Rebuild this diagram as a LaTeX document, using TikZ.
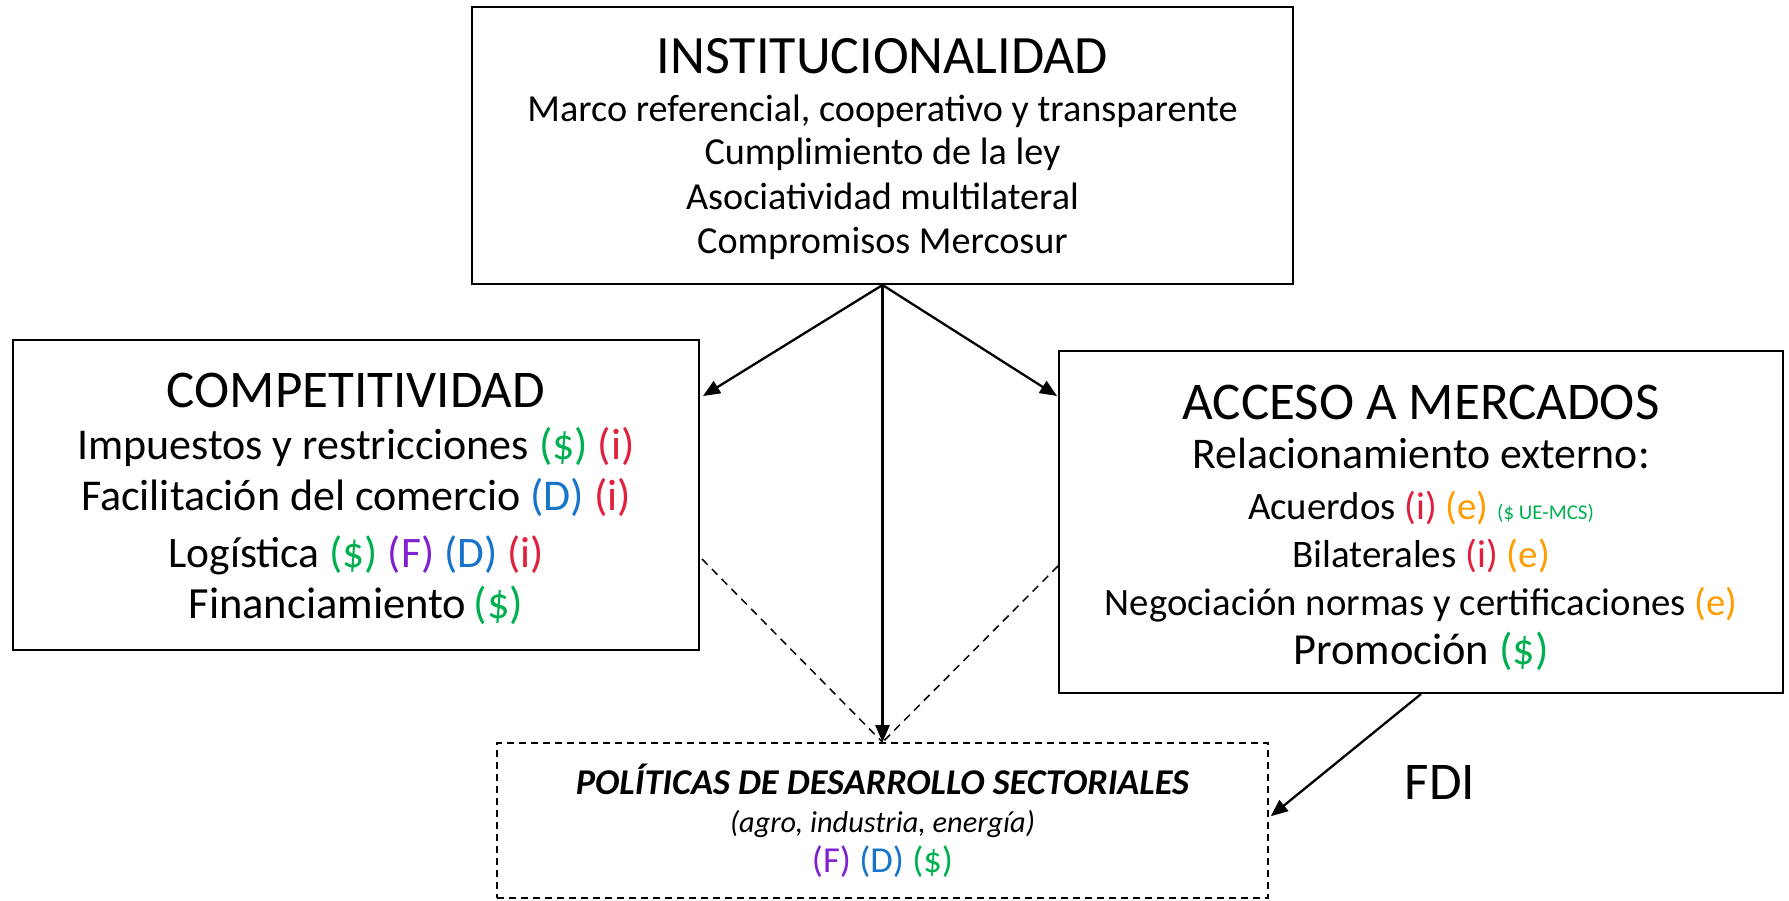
\documentclass[tikz,border=0pt]{standalone}
\usepackage{fontspec}
\setmainfont{Carlito}
\usetikzlibrary{arrows.meta,calc}
\definecolor{cg}{HTML}{00B050}
\definecolor{cr}{HTML}{E0203C}
\definecolor{co}{HTML}{FF9C00}
\definecolor{cb}{HTML}{1874C8}
\definecolor{cp}{HTML}{8020D0}
\newcommand{\fsz}[1]{\fontsize{#1}{#1}\selectfont}
\begin{document}
\begin{tikzpicture}[x=1pt,y=-1pt,
  box/.style={draw, line width=2pt, inner sep=0pt},
  dbox/.style={draw, line width=1.6pt, dash pattern=on 7pt off 5pt, inner sep=0pt},
  line/.style={anchor=base, inner sep=0pt},
  arr/.style={line width=2.3pt, -{Triangle[length=17pt,width=14pt]}},
  dline/.style={line width=1.5pt, dash pattern=on 8pt off 6pt}]
\useasboundingbox (0,0) rectangle (1789,900);
% boxes
\node[box, minimum width=821pt, minimum height=277pt] (inst) at (882.5,145.5) {};
\node[box, minimum width=686pt, minimum height=310pt] (comp) at (356,495) {};
\node[box, minimum width=724pt, minimum height=342pt] (acc) at (1421,522) {};
\node[dbox, minimum width=771pt, minimum height=155pt] (pol) at (882.5,820.5) {};
% top texts
\node[line] (t1) at (882.5,73) {\fsz{54}INSTITUCIONALIDAD};
\node[line] (t2) at (882.5,121) {\fsz{38.2}Marco referencial, cooperativo y transparente};
\node[line] (t3) at (882.5,164) {\fsz{38.2}Cumplimiento de la ley};
\node[line] (t4) at (882.5,209) {\fsz{38.2}Asociatividad multilateral};
\node[line] (t5) at (882.5,253) {\fsz{38.2}Compromisos Mercosur};
% left texts
\node[line] (c1) at (356,407) {\fsz{53}COMPETITIVIDAD};
\node[line] (c2) at (356,459) {\fsz{44}Impuestos y restricciones \textcolor{cg}{(\$)} \textcolor{cr}{(i)}};
\node[line] (c3) at (356,510) {\fsz{44}Facilitación del comercio \textcolor{cb}{(D)} \textcolor{cr}{(i)}};
\node[line] (c4) at (356,567) {\fsz{43.5}Logística \textcolor{cg}{(\$)} \textcolor{cp}{(F)} \textcolor{cb}{(D)} \textcolor{cr}{(i)}};
\node[line] (c5) at (356,618) {\fsz{44.5}Financiamiento\,\textcolor{cg}{(\$)}};
% right texts
\node[line] (a1) at (1421,419) {\fsz{53}ACCESO A MERCADOS};
\node[line] (a2) at (1421,468) {\fsz{43.8}Relacionamiento externo:};
\node[line] (a3) at (1421,519) {\fsz{38.8}Acuerdos \textcolor{cr}{(i)} \textcolor{co}{(e)} {\fsz{21}\textcolor{cg}{(\$ UE-MCS)}}};
\node[line] (a4) at (1421,567) {\fsz{39}Bilaterales \textcolor{cr}{(i)} \textcolor{co}{(e)}};
\node[line] (a5) at (1421,615) {\fsz{38.7}Negociación normas y certificaciones \textcolor{co}{(e)}};
\node[line] (a6) at (1421,664) {\fsz{44.4}Promoción \textcolor{cg}{(\$)}};
% bottom texts
\node[line] (p1) at (882.5,794) {\fsz{36.3}\bfseries\itshape POLÍTICAS DE DESARROLLO SECTORIALES};
\node[line] (p2) at (882.5,832) {\fsz{30.3}\itshape (agro, industria, energía)};
\node[line] (p3) at (882.5,872) {\fsz{36.6}\textcolor{cp}{(F)} \textcolor{cb}{(D)} \textcolor{cg}{(\$)}};
\node[line] (fdi) at (1440,799) {\fsz{53}FDI};
% connectors
\draw[arr] (inst.south) -- ($(comp.north east)+(3,57)$);
\draw[arr] (inst.south) -- ($(acc.north west)+(-1,46)$);
\draw[arr] (inst.south) -- (pol.north);
\draw[dline] ($(comp.north east)+(2,220)$) -- (pol.north);
\draw[dline] ($(acc.north west)+(0,216)$) -- (pol.north);
\draw[arr] (acc.south) -- ($(pol.north east)+(2,74)$);
\end{tikzpicture}
\end{document}
